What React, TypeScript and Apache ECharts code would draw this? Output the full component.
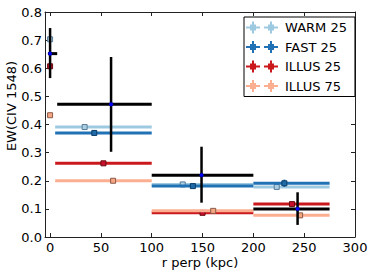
import React, { useEffect, useRef } from "react";
import * as echarts from "echarts";

const xTicks = [0, 50, 100, 150, 200, 250, 300];
const yTicks = [0, 0.1, 0.2, 0.3, 0.4, 0.5, 0.6, 0.7, 0.8];

// observed data (black)
const obsR = [0, 60, 149, 243.5];
const obsEW = [0.652, 0.472, 0.22, 0.1];
const obsRLo = [-2, 7, 100, 200];
const obsRHi = [7, 100, 200, 275];
const obsEWLo = [0.565, 0.303, 0.122, 0.043];
const obsEWHi = [0.743, 0.64, 0.321, 0.159];

// model bins
const binLo = [0, 5, 100, 200];
const binHi = [0, 100, 200, 275];

const warmR = [0, 34, 130.5, 223];
const warmEW = [0.703, 0.391, 0.187, 0.178];
const warmErr = [0, 0, 0, 0];

const fastR = [43.5, 140.5, 230.5];
const fastEW = [0.37, 0.181, 0.191];
const fastErr = [0, 0, 0.013];
const fastLo = [5, 100, 200];
const fastHi = [100, 200, 275];

const illus25R = [0, 52.5, 150, 238];
const illus25EW = [0.607, 0.262, 0.086, 0.117];
const illus25Err = [0, 0, 0, 0.008];

const illus75R = [0, 62, 160.5, 246];
const illus75EW = [0.433, 0.2, 0.093, 0.077];
const illus75Err = [0, 0, 0, 0];

const seriesNames = ["WARM 25", "FAST 25", "ILLUS 25", "ILLUS 75"];
const yTitle = "EW(CIV 1548)";
const xTitle = "r perp (kpc)";

function rows(r: number[], ew: number[], lo: number[], hi: number[], elo: number[], ehi: number[]) {
  return r.map((v, i) => [v, ew[i], lo[i], hi[i], elo[i], ehi[i]]);
}
function modelRows(r: number[], ew: number[], err: number[], lo: number[], hi: number[]) {
  return r.map((v, i) => [v, ew[i], lo[i], hi[i], ew[i] - err[i], ew[i] + err[i]]);
}

function makeRender(lineColor: string, lineWidth: number, vWidth: number, marker: string, face: string, edge: string, msize: number) {
  return (params: any, api: any) => {
    const x = api.value(0), y = api.value(1);
    const xlo = api.value(2), xhi = api.value(3), ylo = api.value(4), yhi = api.value(5);
    const c = api.coord([x, y]);
    const children: any[] = [];
    if (xhi > xlo) {
      const a = api.coord([xlo, y]);
      const b = api.coord([xhi, y]);
      children.push({ type: "line", shape: { x1: a[0], y1: a[1], x2: b[0], y2: b[1] }, style: { stroke: lineColor, lineWidth } });
    }
    if (yhi > ylo) {
      const a = api.coord([x, ylo]);
      const b = api.coord([x, yhi]);
      children.push({ type: "line", shape: { x1: a[0], y1: a[1], x2: b[0], y2: b[1] }, style: { stroke: lineColor, lineWidth: vWidth } });
    }
    if (marker === "circle") {
      children.push({ type: "circle", shape: { cx: c[0], cy: c[1], r: msize / 2 }, style: { fill: face, stroke: edge, lineWidth: 0.5 } });
    } else {
      children.push({ type: "rect", shape: { x: c[0] - msize / 2, y: c[1] - msize / 2, width: msize, height: msize }, style: { fill: face, stroke: edge, lineWidth: 1 } });
    }
    return { type: "group", children };
  };
}

const legendIcon =
  "path://M0,5h14v2h-14z M6,0h2v12h-2z M4,3h6v6h-6z M18,5h14v2h-14z M24,0h2v12h-2z M22,3h6v6h-6z";

export default function App() {
  const ref = useRef<HTMLDivElement>(null);
  useEffect(() => {
    if (!ref.current) return;
    const chart = echarts.init(ref.current, undefined, { renderer: "svg" });
    const font = "DejaVu Sans";
    const axisCommon = {
      type: "value" as const,
      axisLine: { show: true, onZero: false, lineStyle: { color: "#222", width: 1 } },
      splitLine: { show: false },
    };
    const models = [
      { name: seriesNames[0], color: "#9ecae1", edge: "#5b7b95", face: "#a9cfe4", data: modelRows(warmR, warmEW, warmErr, binLo, binHi) },
      { name: seriesNames[1], color: "#2171b5", edge: "#0b3c66", face: "#1f6aa8", data: modelRows(fastR, fastEW, fastErr, fastLo, fastHi) },
      { name: seriesNames[2], color: "#cb181d", edge: "#6a0d10", face: "#c8102e", data: modelRows(illus25R, illus25EW, illus25Err, binLo, binHi) },
      { name: seriesNames[3], color: "#fcae91", edge: "#8a5a48", face: "#f7a684", data: modelRows(illus75R, illus75EW, illus75Err, binLo, binHi) },
    ];
    const series: any[] = models.map((m) => ({
      type: "custom",
      name: m.name,
      itemStyle: { color: m.color },
      renderItem: makeRender(m.color, 3, 2, "rect", m.face, m.edge, 5),
      encode: { x: 0, y: 1 },
      data: m.data,
      z: 2,
    }));
    series.push({
      type: "custom",
      name: "obs",
      itemStyle: { color: "#000" },
      renderItem: makeRender("#000", 3, 2.5, "circle", "#0000ff", "#000080", 4),
      encode: { x: 0, y: 1 },
      data: rows(obsR, obsEW, obsRLo, obsRHi, obsEWLo, obsEWHi),
      z: 3,
    });
    chart.setOption({
      animation: false,
      textStyle: { fontFamily: font },
      grid: { left: 45, right: 19, top: 12, bottom: 37, outerBoundsMode: "none", containLabel: false },
      graphic: [
        {
          type: "text",
          x: 11,
          y: 106,
          rotation: Math.PI / 2,
          style: { text: yTitle, fontFamily: font, fontSize: 13, fill: "#000", align: "center", verticalAlign: "middle" },
        },
        {
          type: "text",
          x: 200,
          y: 262,
          style: { text: xTitle, fontFamily: font, fontSize: 13, fill: "#000", align: "center", verticalAlign: "middle" },
        },
      ],
      legend: {
        data: seriesNames,
        orient: "vertical",
        left: 244,
        top: 17,
        width: 106,
        itemWidth: 32,
        itemHeight: 12,
        itemGap: 6.5,
        padding: [4, 8, 4, 2],
        icon: legendIcon,
        borderColor: "#000",
        borderWidth: 1,
        backgroundColor: "#fff",
        textStyle: { fontFamily: font, fontSize: 13, color: "#000", padding: [0, 0, 0, 2] },
      },
      xAxis: [
        {
          ...axisCommon,
          min: -5,
          max: 300,
          position: "bottom",
          axisTick: { show: true, inside: true, length: 4, customValues: xTicks, lineStyle: { color: "#222" } },
          axisLabel: { customValues: xTicks, fontSize: 13, color: "#000", margin: 4, fontFamily: font },
        },
        {
          ...axisCommon,
          min: -5,
          max: 300,
          position: "top",
          axisTick: { show: true, inside: true, length: 4, customValues: xTicks, lineStyle: { color: "#222" } },
          axisLabel: { show: false },
        },
      ],
      yAxis: [
        {
          ...axisCommon,
          min: 0,
          max: 0.8,
          position: "left",
          axisTick: { show: true, inside: true, length: 4, customValues: yTicks, lineStyle: { color: "#222" } },
          axisLabel: { customValues: yTicks, fontSize: 13, color: "#000", margin: 3, fontFamily: font, formatter: (v: number) => v.toFixed(1) },
        },
        {
          ...axisCommon,
          min: 0,
          max: 0.8,
          position: "right",
          axisTick: { show: true, inside: true, length: 4, customValues: yTicks, lineStyle: { color: "#222" } },
          axisLabel: { show: false },
        },
      ],
      series,
    });
    return () => chart.dispose();
  }, []);
  return <div ref={ref} style={{ width: 374, height: 274, position: "absolute", left: 0, top: 0 }} />;
}
